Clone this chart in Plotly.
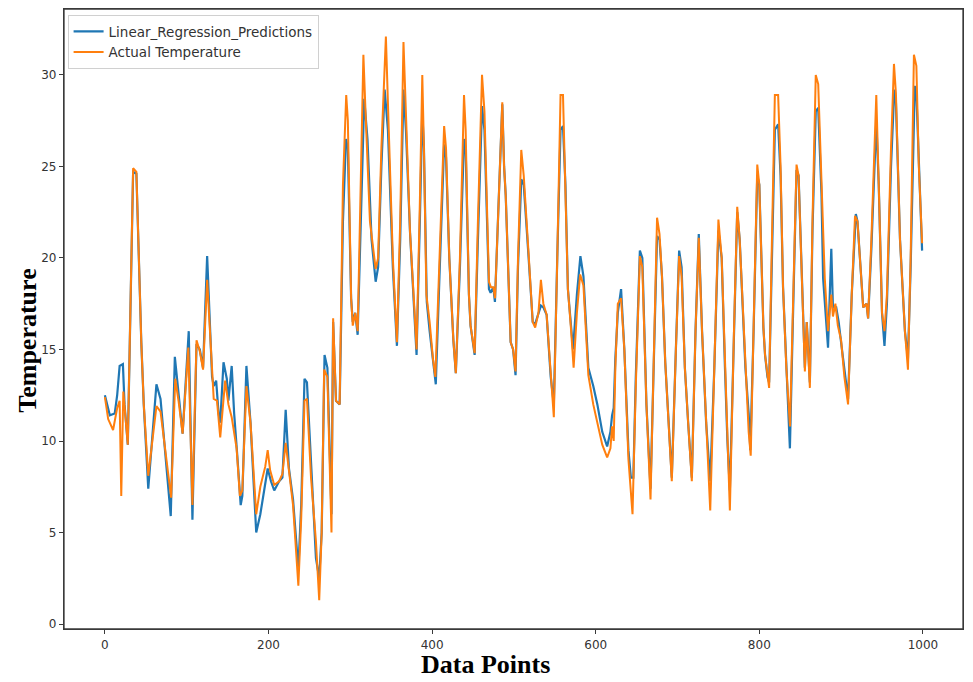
import plotly.graph_objects as go

# (data point index, temperature)
actual_points = [
    (0, 12.4), (4, 11.2), (10, 10.6), (15, 11.8), (18, 12.2), (20, 7.0), (22.5, 12.7), (25.5, 11.2), (28, 9.8),
    (34.5, 24.9), (38.5, 24.7), (44.5, 15.4), (47.5, 12.0), (53, 8.1), (63, 11.9), (68, 11.6), (81, 6.9),
    (86, 13.4), (90, 12.2), (95, 10.4), (102, 15.1), (107, 6.5), (112, 15.5), (116, 14.9), (120, 13.9),
    (125, 18.8), (131, 13.4), (133, 12.3), (137, 12.2), (141, 10.2), (147, 13.3), (151, 12.0), (155, 11.3),
    (161, 9.6), (165, 7.0), (168, 7.3), (173, 13.0), (178, 11.0), (185, 6.0), (190, 7.5), (196, 8.6),
    (199, 9.5), (202, 8.4), (207, 7.6), (213, 7.8), (217, 8.2), (221, 9.9), (225, 8.5), (230, 6.5),
    (236.5, 2.1), (240, 5.8), (244, 12.2), (247, 12.3), (252, 8.0), (258, 4.5), (262, 1.3), (265, 5.0),
    (268, 13.9), (272, 13.5), (277, 5.0), (279, 16.7), (282.5, 12.2), (287, 12.0), (291, 24.0), (295, 28.9),
    (297, 27.5), (301, 17.8), (303, 16.3), (306, 17.0), (309, 16.0), (313, 25.0), (316, 31.1), (319, 27.5),
    (324, 22.0), (331, 19.4), (334, 20.0), (338, 26.0), (343.5, 32.1), (347, 27.0), (352, 20.0), (357, 15.4),
    (361, 22.0), (365, 31.8), (368, 28.0), (373, 21.4), (378, 17.5), (381, 15.0), (385, 23.0), (388, 30.0),
    (390, 26.0), (393, 18.0), (397, 16.5), (401, 14.5), (404, 13.5), (409, 20.0), (414.7, 27.2), (417, 26.0),
    (421, 20.0), (426, 15.5), (429, 13.7), (434, 20.0), (439, 28.9), (441, 27.0), (445, 18.0), (447, 16.3),
    (452, 14.8), (456, 22.0), (461, 30.0), (464, 28.0), (469.5, 18.7), (472, 18.4), (474.8, 18.4), (477, 17.8),
    (481, 23.0), (485.8, 28.5), (488, 25.0), (490, 23.4), (496, 15.4), (499, 15.0), (502, 13.8), (505, 20.0),
    (509, 25.9), (512, 24.5), (518, 20.2), (523, 16.5), (526, 16.2), (530, 17.0), (533, 18.8), (536, 17.5),
    (540, 16.9), (545, 13.5), (548.8, 11.3), (553, 20.0), (557, 28.9), (560, 28.9), (563, 24.0), (566, 18.3),
    (570, 16.0), (573, 14.0), (577, 17.0), (581, 19.1), (585, 18.5), (588, 16.0), (591, 13.6), (597, 12.0),
    (602, 11.0), (608, 9.8), (614, 9.1), (618, 9.6), (620, 10.8), (622, 10.0), (624, 14.0), (627, 17.5),
    (631, 17.8), (635, 15.0), (640, 9.0), (645, 6.0), (649, 13.0), (654, 20.1), (657, 19.5), (662, 12.0),
    (667, 6.8), (671, 14.0), (675, 22.2), (678, 21.3), (681, 19.0), (685, 14.3), (689, 11.0), (693, 7.8),
    (698, 15.0), (702, 20.1), (705, 19.0), (709, 14.0), (713, 11.0), (717.5, 7.8), (722, 16.0), (726, 21.1),
    (730, 16.0), (735, 11.0), (740, 6.2), (745, 14.0), (750, 22.1), (754, 20.0), (758, 14.0), (761, 10.0),
    (764, 6.2), (769, 16.0), (773, 22.8), (776, 21.0), (781, 16.0), (783, 13.9), (787, 10.5), (789.5, 9.2),
    (793, 16.0), (797.5, 25.1), (800, 24.0), (805, 16.2), (807, 14.7), (810, 13.5), (812, 12.9), (815, 20.0),
    (819, 28.9), (823, 28.9), (826, 25.0), (829, 18.4), (833, 14.0), (837.5, 10.8), (841, 17.0), (845.5, 25.1),
    (848, 24.5), (853, 17.2), (855.7, 13.8), (858, 16.5), (861.8, 12.9), (865, 22.0), (869, 30.0), (872, 29.5),
    (876, 24.0), (880, 18.9), (884, 16.0), (888, 18.0), (890, 16.8), (893, 17.5), (896, 16.3), (900, 15.5),
    (904, 13.5), (908.5, 12.0), (913, 18.0), (917, 22.3), (920, 22.0), (925, 18.9), (927, 17.3), (931, 17.5),
    (933, 16.7), (937, 21.0), (941, 27.0), (943, 28.9), (946, 24.0), (950, 17.0), (953, 16.0), (956, 18.0),
    (961, 26.0), (964.6, 30.6), (967, 29.0), (972, 21.0), (978, 16.0), (981.7, 13.9), (985, 20.0), (989, 31.1),
    (992, 30.5), (995, 25.0), (999, 20.8),
]

predicted_points = [
    (0, 12.5), (6, 11.4), (12, 11.5), (15, 12.5), (18, 14.1), (22, 14.2), (24, 12.0), (28, 9.8),
    (34.5, 24.7), (38.5, 24.6), (44.5, 15.4), (47.5, 12.0), (53, 7.4), (63, 13.1), (68, 12.3), (80.5, 5.9),
    (85.5, 14.6), (90, 12.5), (95, 10.4), (102.5, 16.0), (107, 5.7), (112, 15.3), (116, 15.0), (120, 14.0),
    (125, 20.1), (131, 13.5), (133, 13.0), (136, 13.3), (139, 11.5), (141, 11.0), (145, 14.3), (149, 13.4),
    (151, 12.2), (155, 14.1), (158, 11.5), (162, 9.1), (166, 6.5), (168, 7.0), (173, 14.1), (178, 11.0),
    (185, 5.0), (190, 6.0), (196, 7.6), (199, 8.5), (203, 7.8), (207, 7.3), (213, 7.8), (217, 8.0),
    (221, 11.7), (225, 8.5), (230, 6.8), (236.5, 3.0), (240, 6.5), (244, 13.4), (247, 13.2), (252, 8.5),
    (258, 3.6), (262, 2.5), (265, 5.0), (268.5, 14.7), (272, 14.0), (277, 6.0), (279, 16.5), (282.5, 12.2),
    (287, 12.0), (291, 22.0), (294.7, 26.5), (297, 26.0), (301, 17.8), (303, 16.5), (306, 17.0), (309, 15.8),
    (313, 23.0), (317, 28.7), (321, 26.5), (326, 21.0), (331, 18.7), (334, 19.5), (338, 25.0), (342, 29.2),
    (346, 27.0), (352, 19.5), (357, 15.2), (361, 21.0), (365, 29.2), (368, 27.0), (373, 21.4), (378, 17.2),
    (381, 14.7), (385, 22.0), (388, 28.0), (390, 26.0), (393.5, 17.6), (397, 16.0), (401, 14.5), (404.5, 13.1),
    (409, 19.0), (414.7, 26.2), (417, 25.5), (421, 20.0), (426, 15.5), (429, 13.7), (434, 19.5), (439, 26.5),
    (441, 26.0), (445, 18.0), (447, 16.3), (452, 14.7), (456, 21.0), (461, 28.3), (464, 27.0), (469.5, 18.3),
    (471.5, 18.1), (474.8, 18.4), (476.8, 17.6), (481, 22.5), (485.8, 28.4), (488, 25.0), (490, 23.4), (496, 15.4),
    (499, 15.0), (502, 13.6), (505, 19.5), (509, 24.3), (512, 24.0), (518, 20.0), (523, 16.5), (526, 16.4),
    (530, 17.0), (533, 17.4), (536, 17.3), (540, 16.9), (545, 13.5), (548.8, 12.0), (553, 20.0), (557, 27.0),
    (560, 27.2), (563, 24.0), (566, 18.3), (570, 16.0), (572.3, 15.0), (577, 18.0), (581.3, 20.1), (585, 19.0),
    (588, 16.5), (591, 14.0), (597, 13.0), (602, 12.0), (608, 10.5), (614, 9.7), (618, 10.5), (620, 11.4),
    (622, 11.8), (624, 14.5), (627, 17.0), (631, 18.3), (635, 15.0), (640, 9.5), (643, 8.0), (646, 8.0),
    (649, 13.5), (654, 20.4), (657, 20.0), (662, 12.0), (667, 7.4), (671, 14.0), (675, 21.2), (678, 21.0),
    (681, 19.0), (685, 14.3), (689, 11.0), (693, 8.0), (698, 15.0), (702, 20.4), (705, 19.5), (709, 14.0),
    (713, 11.0), (717.5, 8.0), (722, 16.0), (726, 21.3), (730, 16.0), (735, 11.0), (740, 7.8), (745, 14.0),
    (750, 21.5), (754, 20.0), (758, 14.0), (761, 10.0), (764, 7.3), (769, 16.0), (773, 22.5), (776, 21.0),
    (780.5, 16.2), (783, 14.0), (787, 11.5), (789, 9.5), (793, 16.0), (797.5, 24.5), (800, 24.0), (805, 16.2),
    (807, 14.7), (810, 13.5), (812, 13.2), (815, 19.5), (819, 27.0), (823, 27.3), (826, 24.5), (829, 18.4),
    (833, 14.0), (837.4, 9.6), (841, 16.5), (845.5, 24.8), (848, 24.5), (853, 17.2), (855.7, 14.0), (858, 16.5),
    (861.8, 13.2), (865, 21.5), (869, 28.0), (872, 28.2), (876, 23.5), (878, 18.9), (884, 15.1), (888, 20.5),
    (890, 17.3), (894, 17.3), (897, 16.5), (900.5, 15.2), (904, 13.8), (908.5, 12.3), (913, 18.0), (918, 22.4),
    (920, 22.0), (925, 18.9), (927, 17.3), (931, 17.5), (933, 16.7), (937, 20.5), (941, 26.0), (943, 27.5),
    (946, 24.0), (950, 17.0), (953, 15.2), (956, 17.5), (961, 25.0), (965, 29.2), (967, 28.5), (972, 21.0),
    (978, 16.0), (981.7, 14.5), (985, 19.5), (990, 29.4), (992, 29.0), (995, 25.0), (999, 20.4),
]

x_ticks = [0, 200, 400, 600, 800, 1000]
y_ticks = [0, 5, 10, 15, 20, 25, 30]

series_names = ["Linear_Regression_Predictions", "Actual Temperature"]
x_title = "Data Points"
y_title = "Temperature"

BLUE = "#1f77b4"
ORANGE = "#ff7f0e"
FRAME = "#3a3a3a"

fig = go.Figure()
fig.add_trace(go.Scatter(
    x=[p[0] for p in predicted_points], y=[p[1] for p in predicted_points],
    mode="lines", name=series_names[0], line=dict(color=BLUE, width=2.2),
))
fig.add_trace(go.Scatter(
    x=[p[0] for p in actual_points], y=[p[1] for p in actual_points],
    mode="lines", name=series_names[1], line=dict(color=ORANGE, width=2.0),
))

axis_common = dict(
    showgrid=False, zeroline=False, showline=True, mirror=True,
    linecolor=FRAME, linewidth=1.3, ticks="outside", ticklen=4,
    tickcolor=FRAME, tickfont=dict(family="DejaVu Sans", size=12, color="#333333"),
)
fig.update_xaxes(range=[-50, 1049], tickvals=x_ticks, **axis_common)
fig.update_yaxes(range=[-0.27, 33.6], tickvals=y_ticks, **axis_common)

# page body has an 8px margin, so the figure is sized to compensate
fig.update_layout(
    width=965, height=676,
    margin=dict(l=56, r=10, t=1, b=55),
    paper_bgcolor="white", plot_bgcolor="white",
    showlegend=True,
    legend=dict(
        x=0.004, y=0.99, xanchor="left", yanchor="top",
        bgcolor="rgba(255,255,255,0.9)", bordercolor="#d0d0d0", borderwidth=1,
        font=dict(family="DejaVu Sans", size=13.5, color="#333333"),
        itemwidth=30, tracegroupgap=0,
    ),
    shapes=[
        dict(type="rect", xref="paper", yref="paper", x0=0, y0=0, x1=1, y1=1,
             line=dict(color=FRAME, width=1.3), fillcolor="rgba(0,0,0,0)", layer="above"),
    ],
    annotations=[
        dict(text=f"<b>{x_title}</b>", xref="paper", yref="paper", x=0.469, y=-0.058,
             xanchor="center", yanchor="middle", showarrow=False,
             font=dict(family="Liberation Serif", size=26, color="black")),
        dict(text=f"<b>{y_title}</b>", xref="paper", yref="paper", x=-0.04, y=0.465,
             xanchor="center", yanchor="middle", textangle=-90, showarrow=False,
             font=dict(family="Liberation Serif", size=26, color="black")),
    ],
)

fig.write_html("out.html")
